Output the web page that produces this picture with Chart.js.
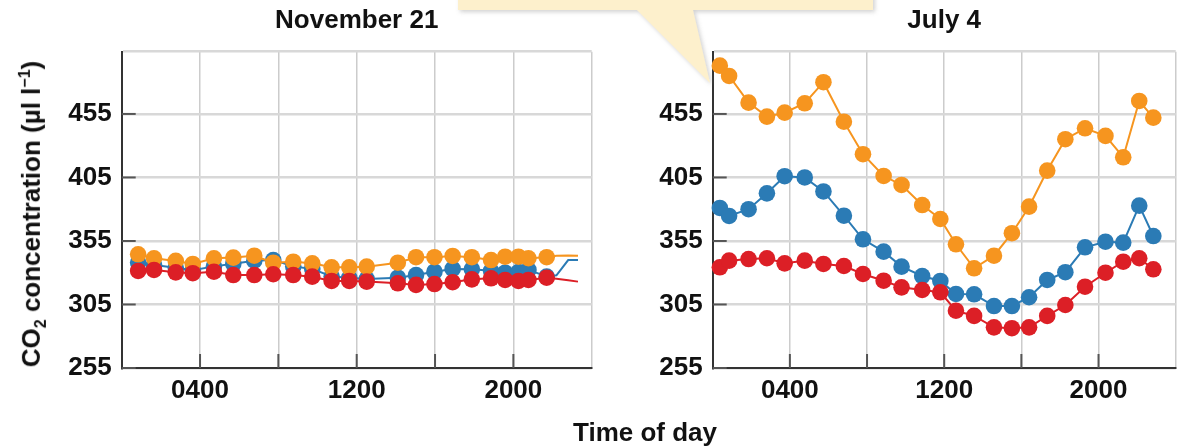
<!DOCTYPE html>
<html>
<head>
<meta charset="utf-8">
<script src="https://cdn.jsdelivr.net/npm/chart.js@4"></script>
<style>
  html,body{margin:0;padding:0;background:#fff;}
  #wrap{position:relative;width:1184px;height:447px;overflow:hidden;font-family:"Liberation Sans",Arial,sans-serif;}
  canvas{position:absolute;top:0;}
  #cNov{left:0;}
  #cJul{left:600px;}
  .ytitle{position:absolute;left:33px;top:214px;transform:translate(-50%,-50%) rotate(-90deg);white-space:nowrap;font-weight:bold;font-size:26px;color:#111;}
  .ytitle sub,.ytitle sup{font-size:16px;}
  .xtitle{position:absolute;left:645px;top:432px;transform:translate(-50%,-50%);white-space:nowrap;font-weight:bold;font-size:26px;color:#111;}
  #bubble{position:absolute;left:0;top:0;z-index:5;}
</style>
</head>
<body>
<div id="wrap">
  <canvas id="cNov" width="600" height="447"></canvas>
  <canvas id="cJul" width="584" height="447"></canvas>
  <div class="ytitle">CO<sub>2</sub> concentration (µl l<sup>−1</sup>)</div>
  <div class="xtitle">Time of day</div>
  <svg id="bubble" width="1184" height="100">
    <defs><filter id="sh" x="-10%" y="-50%" width="130%" height="200%"><feDropShadow dx="2" dy="2" stdDeviation="2" flood-color="#999" flood-opacity="0.45"/></filter></defs>
    <g filter="url(#sh)" fill="#fdf0cc">
      <polygon points="458,-10 873,-10 873,10 693,10 710,83 637,10 458,10"/>
    </g>
  </svg>
</div>
<script>
// time of day in hours (0-24), CO2 in µl l-1
const novTimes  = [0.84,1.65,2.76,3.63,4.71,5.7,6.77,7.74,8.76,9.73,10.72,11.62,12.51,14.1,15.03,15.97,16.9,17.88,18.86,19.58,20.26,20.77,21.7,22.2,22.8,23.3];
const novOrange = [344.5,341.4,339.3,336.9,341.4,341.9,343.4,337.9,338.7,337.4,334.3,334.3,334.8,337.9,342.2,342.2,343.2,342.2,340,342.6,342.6,341.4,342.2,343.4,343.6,343.4];
const novBlue   = [338,336,334,332,335,337,339.5,340,335,333,327,326,325,326.1,328.2,330.8,333,332.7,331.5,330,330.5,332.2,327,328,340,340];
const novRed    = [331.4,332.2,330.3,329.6,330.8,328.2,328.2,328.8,328.2,326.9,323.5,323.5,323,321.7,320.4,321.1,322.5,324.8,325.6,324.3,323.5,324.3,326.1,325.3,324,323];
const novMarked = 23; // last points are line only

const julTimes  = [0.37,0.85,1.86,2.81,3.73,4.77,5.74,6.8,7.79,8.86,9.79,10.86,11.8,12.61,13.55,14.58,15.51,16.4,17.34,18.28,19.3,20.36,21.28,22.11,22.84];
const julOrange = [493,484.9,463.9,452.9,456,463.4,480,448.9,423.3,406.2,399.1,383.3,372.3,352.4,333.5,343.4,361.1,382,410.4,435.1,443.7,437.7,420.9,465.2,452.1];
const julBlue   = [381,374.7,380,392.5,406,405,394,374.9,356.3,346.6,334.8,327.4,323.5,313.3,313,303.8,303.8,310.7,324.3,330.4,350,354.4,353.7,382.8,358.9];
const julRed    = [334.3,339.5,340.8,341.4,337.4,339.5,336.9,335.3,329,323.7,318.5,316.4,314.6,300.1,296,287,286.3,287,296,304.6,319,330,338.7,341.4,332.7];
const julMarked = julTimes.length;

const yTicks = [255,305,355,405,455];
const yTop = 504;
const xGrid = [0,4,8,12,16,20,24];
const xLabels = [4,12,20];

const ORANGE="#f6951f", BLUE="#2b7bb5", RED="#dc1f26";
const FONT = { family: "Liberation Sans", size: 26, weight: "bold" };

function pts(times, vals){ return times.map((t,i)=>({x:t,y:vals[i]})); }

// short dark tick marks drawn inside the plot
const innerTicks = {
  id:"innerTicks",
  beforeDatasetsDraw(chart){
    const {ctx, chartArea:a, scales:{x,y}} = chart;
    ctx.save(); ctx.strokeStyle="#555"; ctx.lineWidth=2;
    yTicks.forEach(v=>{ const py=y.getPixelForValue(v); ctx.beginPath(); ctx.moveTo(a.left,py); ctx.lineTo(a.left+14,py); ctx.stroke(); });
    xGrid.slice(1,-1).forEach(h=>{ const px=x.getPixelForValue(h); ctx.beginPath(); ctx.moveTo(px,a.bottom); ctx.lineTo(px,a.bottom-14); ctx.stroke(); });
    ctx.restore();
  }
};

function makeChart(id, title, times, orange, blue, red, marked, yWidth, padRight){
  const ds = (label, vals, color, order) => ({
    label, data: pts(times, vals), borderColor: color, backgroundColor: color,
    borderWidth: 2, pointBorderWidth: 0, order, clip: false,
    pointRadius: c => c.dataIndex < marked ? 8.3 : 0
  });
  return new Chart(document.getElementById(id), {
    type: "line",
    data: { datasets: [ ds("red", red, RED, 0), ds("orange", orange, ORANGE, 1), ds("blue", blue, BLUE, 2) ] },
    options: {
      responsive: false, animation: false,
      layout: { padding: { left: 0, right: padRight, top: 5, bottom: 0 } },
      plugins: {
        legend: { display: false }, tooltip: { enabled: false },
        title: { display: true, text: title, fullSize: false, color: "#111",
                 font: FONT, padding: { top: 0, bottom: 15.5 } }
      },
      scales: {
        x: { type: "linear", min: 0, max: 24,
             afterFit: s => { s.height = 79; },
             afterBuildTicks: s => { s.ticks = xGrid.map(v=>({value:v})); },
             ticks: { padding: 7.5, color: "#111", maxRotation: 0, autoSkip: false, font: FONT,
                      callback: v => xLabels.includes(v) ? String(v*100).padStart(4,"0") : "" },
             grid: { color: "#cccccc", lineWidth: 1.5, drawTicks: false },
             border: { color: "#333", width: 2 } },
        y: { min: 255, max: yTop,
             afterFit: s => { s.width = yWidth; },
             afterBuildTicks: s => { s.ticks = yTicks.concat([yTop]).map(v=>({value:v})); },
             ticks: { padding: 10, color: "#111", autoSkip: false, font: FONT,
                      callback: v => yTicks.includes(v) ? String(v) : "" },
             grid: { color: "#d8d8d8", lineWidth: 2.5, drawTicks: false },
             border: { color: "#333", width: 2 } }
      }
    },
    plugins: [innerTicks]
  });
}

makeChart("cNov", "November 21", novTimes, novOrange, novBlue, novRed, novMarked, 121.7, 8);
makeChart("cJul", "July 4", julTimes, julOrange, julBlue, julRed, julMarked, 112.7, 2);
</script>
</body>
</html>
